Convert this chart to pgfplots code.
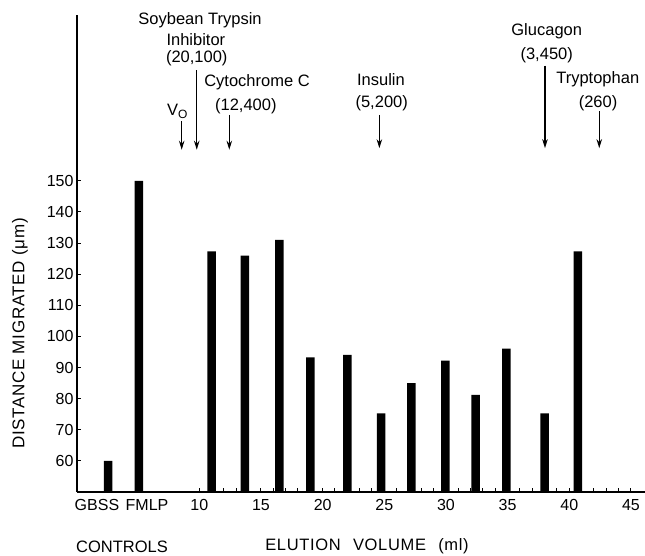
\documentclass[border=0pt]{standalone}
\usepackage{fontspec}
\setmainfont{Liberation Sans}
\newfontfamily\spaced[LetterSpace=4]{Liberation Sans}
\usepackage{pgfplots}
\pgfplotsset{compat=1.18}
\usetikzlibrary{arrows.meta}
\newcommand{\lab}{\fontsize{16.5}{19}\selectfont}
\begin{document}
\begin{tikzpicture}
\useasboundingbox (0,0) rectangle (645pt,555pt);
\begin{axis}[
  at={(77pt,63pt)}, anchor=south west,
  scale only axis, width=568pt, height=477pt,
  xmin=0.08, xmax=46.14, ymin=50, ymax=203.3,
  axis x line=bottom, axis y line=left,
  axis line style={-, line width=1.4pt},
  tick align=inside,
  major tick length=4pt, minor tick length=4pt,
  every tick/.style={line width=1pt, black},
  xtick={10,15,...,45},
  minor xtick={11,12,...,44},
  extra x ticks={1.7,5.76},
  extra x tick labels={GBSS,FMLP},
  extra x tick style={major tick length=0pt},
  ytick={60,70,...,150},
  /pgf/number format/assume math mode=true,
  tick label style={font=\fontsize{16}{18}\selectfont},
  xticklabel style={yshift=-3.5pt},
  clip=false,
]
\addplot[ybar, bar width=8.5pt, fill=black, draw=none] coordinates {
  (2.6,60) (5.1,150) (11.0,127.3) (13.7,126) (16.5,131) (19.0,93.3)
  (22.0,94.1) (24.75,75.3) (27.2,85) (29.95,92.2) (32.4,81.2)
  (34.9,96.1) (38.0,75.3) (40.7,127.3)
};
% arrows for markers
\draw[line width=1.3pt, -{Stealth[length=9pt,width=5.5pt]}] (axis cs:8.57,169.1) -- (axis cs:8.57,160);
\draw[line width=1.3pt, -{Stealth[length=9pt,width=5.5pt]}] (axis cs:9.79,185.5) -- (axis cs:9.79,160);
\draw[line width=1.3pt, -{Stealth[length=9pt,width=5.5pt]}] (axis cs:12.43,171.2) -- (axis cs:12.43,160);
\draw[line width=1.3pt, -{Stealth[length=9pt,width=5.5pt]}] (axis cs:24.6,171.2) -- (axis cs:24.6,160.5);
\draw[line width=1.3pt, -{Stealth[length=9pt,width=5.5pt]}] (axis cs:38.03,187) -- (axis cs:38.03,160.5);
\draw[line width=1.3pt, -{Stealth[length=9pt,width=5.5pt]}] (axis cs:42.43,172.3) -- (axis cs:42.43,160.5);
% labels
\node[font=\lab] at (axis cs:10.06,201.5) {Soybean Trypsin};
\node[font=\lab] at (axis cs:9.72,195.3) {Inhibitor};
\node[font=\lab] at (axis cs:9.79,189.4) {(20,100)};
\node[font=\lab] at (axis cs:14.68,181.6) {Cytochrome C};
\node[font=\lab] at (axis cs:13.77,174.1) {(12,400)};
\node[font=\lab] at (axis cs:8.22,172.3) {V\raisebox{-0.35ex}{\fontsize{12}{12}\selectfont O}};
\node[font=\lab] at (axis cs:24.73,182.5) {Insulin};
\node[font=\lab] at (axis cs:24.79,174.8) {(5,200)};
\node[font=\lab] at (axis cs:38.17,198.0) {Glucagon};
\node[font=\lab] at (axis cs:38.17,190.3) {(3,450)};
\node[font=\lab] at (axis cs:42.31,182.5) {Tryptophan};
\node[font=\lab] at (axis cs:42.33,174.8) {(260)};
\end{axis}
\node[rotate=90, font=\fontsize{17}{19}\spaced] at (20pt,221.5pt) {DISTANCE MIGRATED (μm)};
\node[font=\lab] at (122pt,8.3pt) {CONTROLS};
\node[font=\fontsize{16.5}{19}\spaced] at (367pt,8.3pt) {ELUTION\hspace{7pt} VOLUME\hspace{7pt} (ml)};
\end{tikzpicture}
\end{document}
